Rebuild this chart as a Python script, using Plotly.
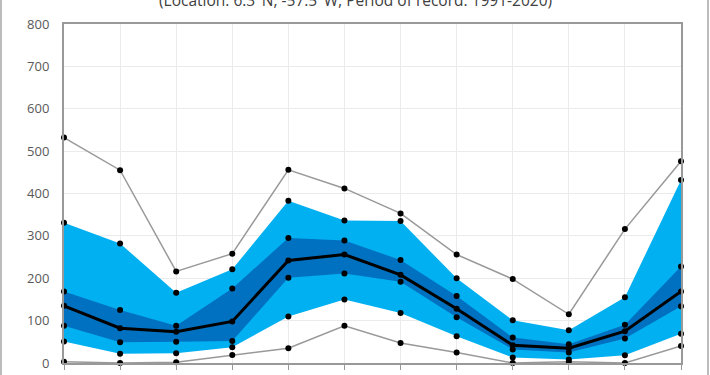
import plotly.graph_objects as go

months = ["Jan", "Feb", "Mar", "Apr", "May", "Jun", "Jul", "Aug", "Sep", "Oct", "Nov", "Dec"]
p_max = [532, 455, 216, 258, 456, 412, 353, 256, 198, 115, 316, 476]
p90 = [331, 282, 166, 221, 383, 336, 335, 200, 101, 77, 155, 432]
p75 = [169, 125, 88, 176, 295, 289, 243, 158, 60, 44, 90, 228]
median = [135, 82, 74, 98, 242, 256, 208, 128, 42, 35, 75, 169]
p25 = [88, 49, 50, 52, 201, 211, 192, 108, 32, 25, 58, 134]
p10 = [51, 22, 23, 37, 110, 150, 118, 63, 13, 8, 18, 69]
p_min = [3, 0, 2, 19, 35, 88, 47, 25, 0, 3, 0, 40]
title_text = "(Location: 6.3°N, -57.5°W; Period of record: 1991-2020)"

x = list(range(len(months)))
LIGHT = "#00B0F0"
DARK = "#0070C0"
GRAY = "#999999"

fig = go.Figure()
# light band 10th-90th
fig.add_trace(go.Scatter(x=x, y=p10, mode="lines", line=dict(width=0), showlegend=False, hoverinfo="skip"))
fig.add_trace(go.Scatter(x=x, y=p90, mode="lines", line=dict(width=0), fill="tonexty",
                         fillcolor=LIGHT, showlegend=False, hoverinfo="skip"))
# dark band 25th-75th
fig.add_trace(go.Scatter(x=x, y=p25, mode="lines", line=dict(width=0), showlegend=False, hoverinfo="skip"))
fig.add_trace(go.Scatter(x=x, y=p75, mode="lines", line=dict(width=0), fill="tonexty",
                         fillcolor=DARK, showlegend=False, hoverinfo="skip"))
# percentile dots
for series in (p10, p90, p25, p75):
    fig.add_trace(go.Scatter(x=x, y=series, mode="markers", marker=dict(color="black", size=6),
                             showlegend=False, cliponaxis=False))
# max/min lines
for series in (p_max, p_min):
    fig.add_trace(go.Scatter(x=x, y=series, mode="lines+markers", line=dict(color=GRAY, width=1.5),
                             marker=dict(color="black", size=6), showlegend=False, cliponaxis=False))
# median
fig.add_trace(go.Scatter(x=x, y=median, mode="lines+markers", line=dict(color="black", width=3),
                         marker=dict(color="black", size=6), showlegend=False, cliponaxis=False))

plot_h = 375 - 24 - 12
fig.add_annotation(text=title_text, xref="paper", yref="paper", x=(355 - 64) / 617,
                   y=1 + 24 / plot_h, xanchor="center", yanchor="middle", showarrow=False,
                   font=dict(family="Open Sans", size=15.5, color="#404040"))

# outer chart border lines
for px in (1, 708):
    fig.add_shape(type="line", xref="paper", yref="paper", x0=(px - 64) / 617, x1=(px - 64) / 617,
                  y0=-0.2, y1=1.2, line=dict(color="#a6a6a6", width=1.5), layer="above")

fig.update_layout(
    width=710, height=375,
    margin=dict(l=64, r=29, t=24, b=12, autoexpand=False),
    paper_bgcolor="white", plot_bgcolor="white",
    font=dict(family="Open Sans", size=13, color="#595959"),
    showlegend=False,
)
fig.update_xaxes(range=[0, 11], tickvals=x, ticktext=months, showgrid=True, gridcolor="#ebebeb",
                 gridwidth=1, showline=True, linecolor=GRAY, linewidth=1.5, mirror=True,
                 ticks="outside", ticklen=5, tickcolor=GRAY, zeroline=False, automargin=False,
                 ticklabelstandoff=0)
fig.update_yaxes(range=[0, 800], dtick=100, showgrid=True, gridcolor="#ebebeb", gridwidth=1,
                 showline=True, linecolor=GRAY, linewidth=2, mirror=True, ticks="",
                 ticklabelstandoff=10, zeroline=False, automargin=False)

fig.write_html("out.html", config={"displayModeBar": False},
               post_script="document.body.style.margin='0';document.body.style.overflow='hidden';")
